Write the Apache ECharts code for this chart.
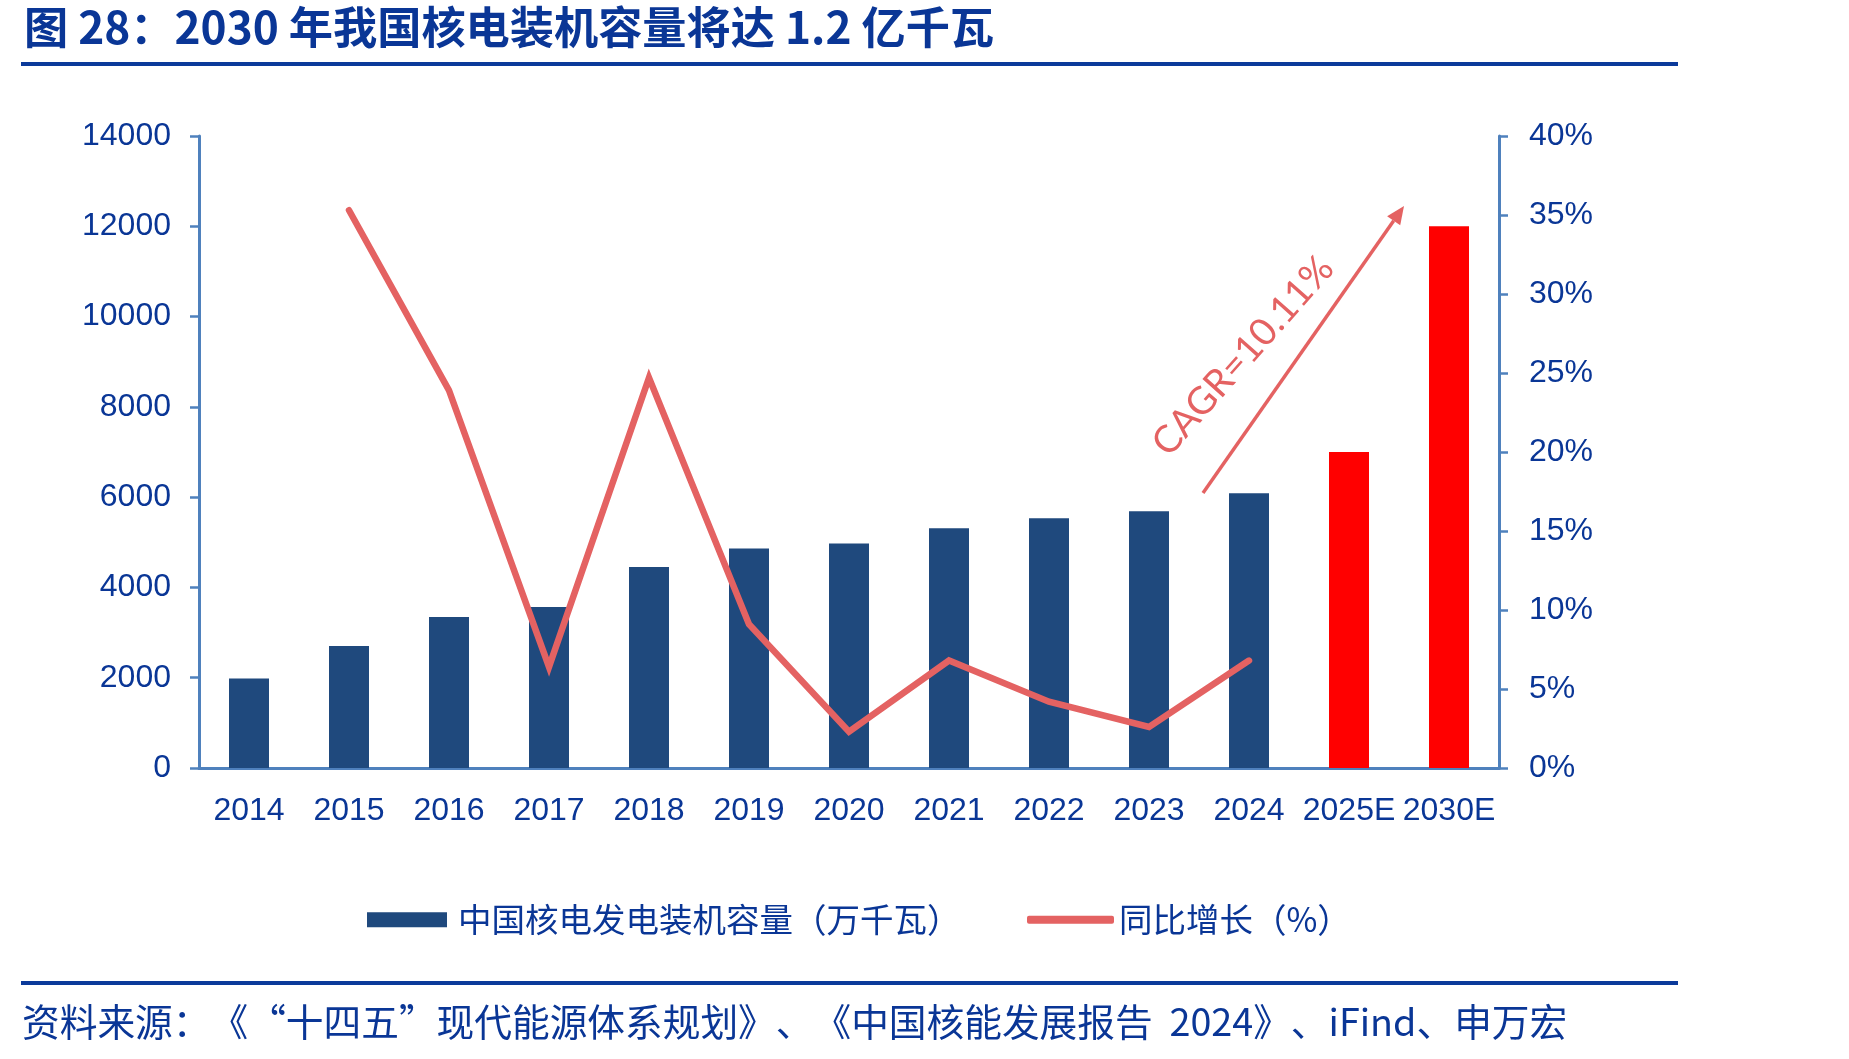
<!DOCTYPE html>
<html>
<head>
<meta charset="utf-8">
<script src="https://cdn.jsdelivr.net/npm/echarts/dist/echarts.min.js"></script>
<style>
    body { margin: 0; background: #fff; }
    #chart { width: 1849px; height: 1059px; }
</style>
</head>
<body>
<div id="chart"></div>
<script>
var years = ['2014', '2015', '2016', '2017', '2018', '2019', '2020', '2021', '2022', '2023', '2024', '2025E', '2030E'];
var capacity = [1985, 2703, 3345, 3566, 4453, 4860, 4971, 5310, 5532, 5687, 6086, 7000, 12000]; // 万千瓦
var growth = [null, 35.3, 23.9, 6.4, 24.7, 9.1, 2.3, 6.8, 4.2, 2.6, 6.8, null, null]; // %
var forecastYears = ['2025E', '2030E'];
var leftTicks = { min: 0, max: 14000, interval: 2000 };
var rightTicks = { min: 0, max: 40, interval: 5 };

var navy = '#1f497d';
var red = '#ff0000';
var lineRed = '#e46262';
var textBlue = '#0a3696';
var axisBlue = '#4f81bd';
var cjk = '"Noto Sans CJK SC", sans-serif';
var latin = '"Liberation Sans", Arial, sans-serif';

var barData = [];
for (var i = 0; i < years.length; i++) {
    if (forecastYears.indexOf(years[i]) >= 0) {
        barData.push({ value: capacity[i], itemStyle: { color: red } });
    } else {
        barData.push(capacity[i]);
    }
}

// CAGR arrow, drawn as a plain annotation
function arrow(x1, y1, x2, y2, len, half) {
    var dx = x2 - x1, dy = y2 - y1;
    var d = Math.sqrt(dx * dx + dy * dy);
    var ux = dx / d, uy = dy / d;
    var bx = x2 - ux * len, by = y2 - uy * len;
    return [{
        type: 'line',
        shape: { x1: x1, y1: y1, x2: bx, y2: by },
        style: { stroke: lineRed, lineWidth: 3.5 }
    }, {
        type: 'polygon',
        shape: { points: [[x2, y2], [bx - uy * half, by + ux * half], [bx + uy * half, by - ux * half]] },
        style: { fill: lineRed }
    }];
}

var axisLabelStyle = { color: textBlue, fontSize: 32, fontFamily: latin };
var legendText = { color: textBlue, fontSize: 33.5, fontFamily: cjk };

// zero-width spaces keep the browser from squeezing adjacent full-width punctuation
var zw = '\u200B';
var sourceText = '资料来源：' + zw + '《' + zw + '“十四五”' + zw + '现代能源体系规划》' + zw + '、' + zw +
    '《中国核能发展报告  2024》' + zw + '、' + zw + 'iFind、申万宏';

var option = {
    animation: false,
    backgroundColor: '#fff',
    grid: { left: 199, right: 350, top: 136, bottom: 291 },
    legend: [{
        data: ['中国核电发电装机容量（万千瓦）'],
        left: 362,
        top: 898,
        icon: 'rect',
        itemWidth: 80,
        itemHeight: 15,
        textStyle: Object.assign({ padding: [0, 0, 0, 6] }, legendText)
    }, {
        data: ['同比增长（%）'],
        left: 1022,
        top: 898,
        icon: 'roundRect',
        itemWidth: 87,
        itemHeight: 8,
        itemStyle: { borderWidth: 0 },
        textStyle: Object.assign({ padding: [0, 0, 0, 0] }, legendText)
    }],
    xAxis: [{
        type: 'category',
        data: years,
        boundaryGap: true,
        axisLine: { lineStyle: { color: axisBlue, width: 3 } },
        axisTick: { length: 9, lineStyle: { color: axisBlue, width: 2.5 } },
        axisLabel: Object.assign({ margin: 27, interval: 0 }, axisLabelStyle)
    }],
    yAxis: [{
        type: 'value',
        min: leftTicks.min,
        max: leftTicks.max,
        interval: leftTicks.interval,
        splitLine: { show: false },
        axisLine: { show: true, lineStyle: { color: axisBlue, width: 3 } },
        axisTick: { show: true, length: 9, lineStyle: { color: axisBlue, width: 2.5 } },
        axisLabel: Object.assign({ margin: 28, formatter: function(v) { return String(v); } }, axisLabelStyle)
    }, {
        type: 'value',
        position: 'right',
        min: rightTicks.min,
        max: rightTicks.max,
        interval: rightTicks.interval,
        splitLine: { show: false },
        axisLine: { show: true, lineStyle: { color: axisBlue, width: 3 } },
        axisTick: { show: true, length: 9, lineStyle: { color: axisBlue, width: 2.5 } },
        axisLabel: Object.assign({ margin: 30, formatter: '{value}%' }, axisLabelStyle)
    }],
    series: [{
        name: '中国核电发电装机容量（万千瓦）',
        type: 'bar',
        barWidth: 40,
        itemStyle: { color: navy },
        data: barData
    }, {
        name: '同比增长（%）',
        type: 'line',
        yAxisIndex: 1,
        symbol: 'none',
        itemStyle: { color: lineRed },
        lineStyle: { color: lineRed, width: 6.5, cap: 'round', join: 'miter' },
        data: growth
    }],
    graphic: [{
        type: 'text',
        left: 24,
        top: 5,
        style: { text: '图 28：2030 年我国核电装机容量将达 1.2 亿千瓦', fill: textBlue, font: 'bold 44.2px ' + cjk }
    }, {
        type: 'rect',
        shape: { x: 21, y: 62, width: 1657, height: 4 },
        style: { fill: '#0b3a9a' }
    }, {
        type: 'rect',
        shape: { x: 21, y: 981, width: 1657, height: 4 },
        style: { fill: '#0b3a9a' }
    }, {
        type: 'text',
        left: 22,
        top: 1003,
        style: { text: sourceText, fill: textBlue, font: '37.7px ' + cjk }
    }, {
        type: 'text',
        x: 1243,
        y: 356,
        rotation: 48.4 * Math.PI / 180,
        style: { text: 'CAGR=10.11%', fill: lineRed, font: '38px Lato, sans-serif', align: 'center', verticalAlign: 'middle' }
    }].concat(arrow(1203, 493, 1404, 206, 18, 8))
};

var chart = echarts.init(document.getElementById('chart'));
chart.setOption(option);
</script>
</body>
</html>
